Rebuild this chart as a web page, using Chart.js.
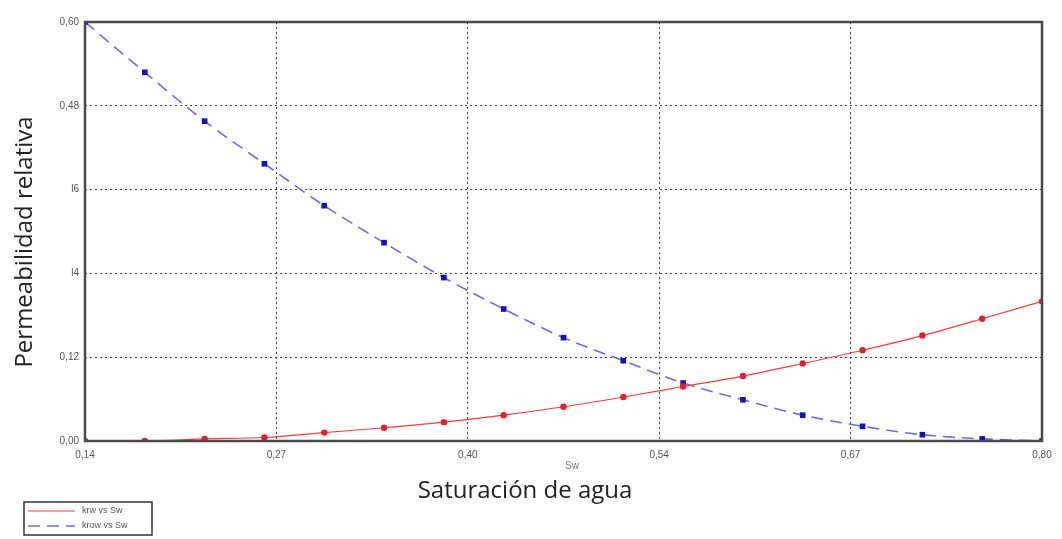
<!DOCTYPE html>
<html>
<head>
<meta charset="utf-8">
<script src="https://cdn.jsdelivr.net/npm/chart.js@4.4.1/dist/chart.umd.min.js"></script>
<style>
  html, body { margin: 0; padding: 0; background: #ffffff; }
  #wrap { position: relative; width: 1062px; height: 539px; }
</style>
</head>
<body>
<div id="wrap"><canvas id="c" width="1062" height="539"></canvas></div>
<script>
// ---- data ----
const sw = [0.14, 0.18125, 0.2225, 0.26375, 0.305, 0.34625, 0.3875, 0.42875, 0.47,
            0.51125, 0.5525, 0.59375, 0.635, 0.67625, 0.7175, 0.75875, 0.80];
const krw = [0, 0, 0.003, 0.005, 0.012, 0.019, 0.027, 0.037, 0.049,
             0.063, 0.078, 0.093, 0.111, 0.130, 0.151, 0.175, 0.200];
const krow = [0.600, 0.528, 0.458, 0.397, 0.337, 0.284, 0.234, 0.189, 0.148,
              0.115, 0.083, 0.059, 0.037, 0.021, 0.009, 0.003, 0];
const xTickValues = [0.14, 0.272, 0.404, 0.536, 0.668, 0.80];
const xTickLabels = ['0,14', '0,27', '0,40', '0,54', '0,67', '0,80'];
const yTickValues = [0, 0.12, 0.24, 0.36, 0.48, 0.60];
const yTickLabels = ['0,00', '0,12', 'l4', 'l6', '0,48', '0,60'];
const seriesNames = ['krw vs Sw', 'krow vs Sw'];
const yTitle = 'Permeabilidad relativa';
const xSubTitle = 'Sw';
const xTitle = 'Saturación de agua';

const toXY = (xs, ys) => xs.map((x, i) => ({ x: x, y: ys[i] }));

const decor = {
  id: 'decor',
  afterDraw(chart) {
    const ctx = chart.ctx;
    const a = chart.chartArea;
    ctx.save();
    // frame
    ctx.strokeStyle = '#4a4a4a';
    ctx.lineWidth = 2.5;
    ctx.setLineDash([]);
    ctx.strokeRect(a.left, a.top, a.right - a.left, a.bottom - a.top);
    // titles
    ctx.fillStyle = '#222';
    ctx.font = '24px "Open Sans", sans-serif';
    ctx.textAlign = 'center';
    ctx.textBaseline = 'middle';
    ctx.save();
    ctx.translate(25, 242);
    ctx.rotate(-Math.PI / 2);
    ctx.fillText(yTitle, 0, 0);
    ctx.restore();
    ctx.font = '24px "Open Sans", sans-serif';
    ctx.fillText(xTitle, 525, 491);
    ctx.fillStyle = '#777';
    ctx.font = '10px "Liberation Sans", Arial, sans-serif';
    ctx.fillText(xSubTitle, 572, 466);
    // legend
    const lx = 24, ly = 502, lw = 128, lh = 33;
    ctx.fillStyle = '#fff';
    ctx.fillRect(lx, ly, lw, lh);
    ctx.strokeStyle = '#333';
    ctx.lineWidth = 1.5;
    ctx.strokeRect(lx, ly, lw, lh);
    chart.data.datasets.forEach((ds, i) => {
      const y = ly + 9 + i * 15;
      ctx.strokeStyle = ds.borderColor;
      ctx.lineWidth = ds.borderWidth;
      ctx.setLineDash(ds.borderDash || []);
      ctx.beginPath();
      ctx.moveTo(lx + 4, y);
      ctx.lineTo(lx + 51, y);
      ctx.stroke();
      ctx.setLineDash([]);
      ctx.fillStyle = '#555';
      ctx.font = '9px "Liberation Sans", Arial, sans-serif';
      ctx.textAlign = 'left';
      ctx.fillText(seriesNames[i], lx + 58, y);
    });
    ctx.restore();
  }
};

new Chart(document.getElementById('c'), {
  type: 'line',
  data: {
    datasets: [
      {
        label: seriesNames[0],
        data: toXY(sw, krw),
        borderColor: '#ff3a3a',
        borderWidth: 1.2,
        backgroundColor: '#e0202e',
        pointBackgroundColor: '#e0202e',
        pointBorderColor: '#e0202e',
        pointStyle: 'circle',
        pointRadius: 3.2,
        pointBorderWidth: 0,
        cubicInterpolationMode: 'monotone',
        fill: false
      },
      {
        label: seriesNames[1],
        data: toXY(sw, krow),
        borderColor: '#6b6bf0',
        borderWidth: 1.6,
        borderDash: [12, 7],
        backgroundColor: '#1414b8',
        pointBackgroundColor: '#1414b8',
        pointBorderColor: '#1414b8',
        pointStyle: 'rect',
        pointRadius: 4,
        pointBorderWidth: 0,
        cubicInterpolationMode: 'monotone',
        fill: false
      }
    ]
  },
  options: {
    responsive: false,
    animation: false,
    layout: { padding: { left: 0, right: 20, top: 22, bottom: 0 } },
    plugins: { legend: { display: false }, tooltip: { enabled: false }, title: { display: false } },
    scales: {
      x: {
        type: 'linear',
        min: 0.14,
        max: 0.80,
        afterBuildTicks(s) { s.ticks = xTickValues.map(v => ({ value: v })); },
        afterFit(s) { s.height = 98; },
        ticks: {
          autoSkip: false,
          maxRotation: 0,
          padding: 8,
          color: '#555',
          font: { family: '"Liberation Sans", Arial, sans-serif', size: 10 },
          callback(v, i) { return xTickLabels[i]; }
        },
        grid: {
          color: '#444',
          lineWidth: 1,
          drawTicks: false
        },
        border: { display: false, dash: [2, 3] }
      },
      y: {
        type: 'linear',
        min: 0,
        max: 0.60,
        afterBuildTicks(s) { s.ticks = yTickValues.map(v => ({ value: v })); },
        afterFit(s) { s.width = 85; },
        ticks: {
          autoSkip: false,
          padding: 6,
          color: '#555',
          font: { family: '"Liberation Sans", Arial, sans-serif', size: 10 },
          callback(v, i) { return yTickLabels[i]; }
        },
        grid: {
          color: '#444',
          lineWidth: 1,
          drawTicks: false
        },
        border: { display: false, dash: [2, 3] }
      }
    }
  },
  plugins: [decor]
});
</script>
</body>
</html>
